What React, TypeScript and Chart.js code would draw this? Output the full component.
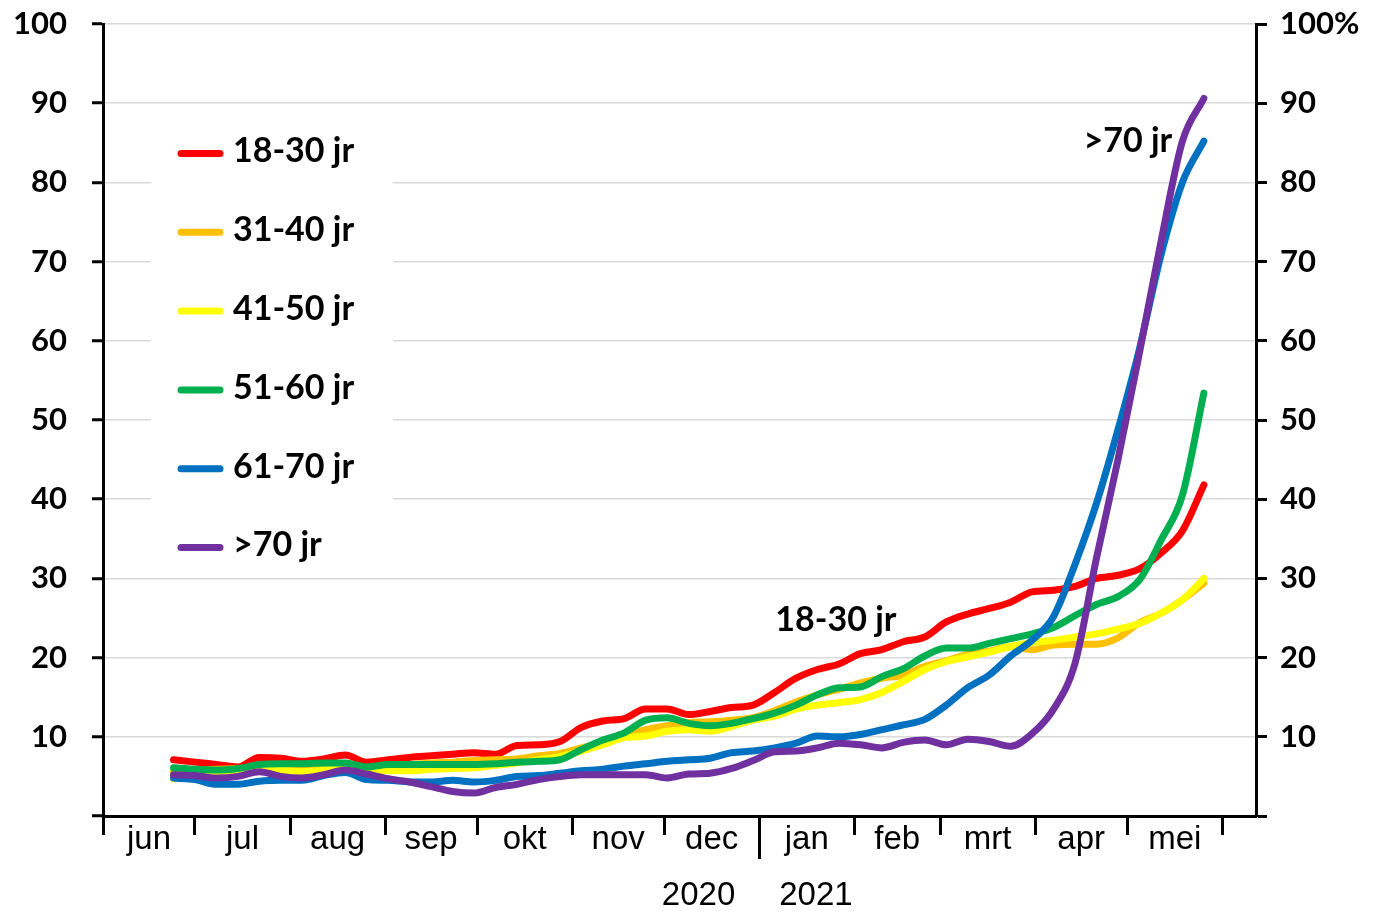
import React, { useEffect, useRef } from "react";
import { Chart, registerables } from "chart.js";

Chart.register(...registerables);

// Day index (0 = 1 June 2020)
const days = [23, 30, 37, 44, 51, 58, 65, 72, 79, 86, 93, 100, 107, 114, 121, 128, 135, 142, 149, 156, 163, 170, 177, 184, 191, 198, 205, 212, 219, 226, 233, 240, 247, 254, 261, 268, 275, 282, 289, 296, 303, 310, 317, 324, 331, 338, 345, 352, 359];

const monthBoundaries = [0, 30, 61, 92, 122, 153, 183, 214, 245, 273, 304, 334, 365];
const monthLabels = ["jun", "jul", "aug", "sep", "okt", "nov", "dec", "jan", "feb", "mrt", "apr", "mei"];
const yearLabels = ["2020", "2021"];
const yTicks = [0, 10, 20, 30, 40, 50, 60, 70, 80, 90, 100];

const seriesLabels = ["18-30 jr", "31-40 jr", "41-50 jr", "51-60 jr", "61-70 jr", ">70 jr"];

const age18to30 = [7.1, 6.8, 6.5, 6.2, 7.4, 7.3, 6.9, 7.2, 7.7, 6.8, 7.1, 7.4, 7.6, 7.8, 8.0, 7.8, 8.9, 9.0, 9.4, 11.2, 12.0, 12.3, 13.5, 13.5, 12.8, 13.2, 13.7, 14.0, 15.6, 17.4, 18.5, 19.2, 20.5, 21.0, 22.0, 22.6, 24.5, 25.5, 26.2, 27.0, 28.3, 28.5, 29.0, 30.0, 30.4, 31.2, 33.2, 36.0, 41.8];
const age31to40 = [5.6, 5.7, 5.9, 6.0, 6.2, 6.3, 6.2, 6.3, 6.5, 6.0, 6.3, 6.5, 6.7, 6.8, 7.0, 7.1, 7.2, 7.6, 7.9, 8.6, 9.3, 10.1, 10.9, 11.4, 11.8, 11.9, 12.1, 12.4, 13.3, 14.4, 15.3, 16.0, 16.8, 17.4, 17.8, 18.9, 19.6, 20.4, 20.8, 21.4, 21.0, 21.6, 21.7, 21.7, 22.5, 24.4, 25.6, 27.3, 29.4];
const age41to50 = [4.7, 5.0, 5.4, 5.7, 5.9, 5.8, 5.6, 5.8, 6.0, 5.9, 5.7, 5.7, 5.9, 6.0, 6.1, 6.4, 6.7, 7.1, 7.5, 8.2, 9.0, 9.9, 10.1, 10.7, 10.9, 10.7, 11.3, 12.1, 12.6, 13.5, 14.0, 14.3, 14.7, 15.6, 17.0, 18.5, 19.5, 20.1, 20.7, 21.4, 21.9, 22.2, 22.6, 23.0, 23.6, 24.3, 25.6, 27.3, 30.0];
const age51to60 = [6.1, 5.9, 5.8, 6.0, 6.5, 6.6, 6.6, 6.7, 6.7, 6.2, 6.5, 6.5, 6.5, 6.5, 6.5, 6.6, 6.8, 6.9, 7.1, 8.4, 9.6, 10.5, 12.1, 12.4, 11.7, 11.4, 11.7, 12.3, 13.0, 14.0, 15.3, 16.2, 16.3, 17.6, 18.6, 20.2, 21.2, 21.2, 21.8, 22.4, 23.0, 23.8, 25.3, 26.7, 27.7, 29.8, 34.8, 40.5, 53.4];
const age61to70 = [4.8, 4.6, 4.0, 4.0, 4.4, 4.5, 4.5, 5.1, 5.5, 4.6, 4.5, 4.3, 4.3, 4.5, 4.3, 4.5, 5.0, 5.1, 5.4, 5.7, 5.9, 6.3, 6.6, 6.9, 7.1, 7.3, 8.0, 8.2, 8.6, 9.2, 10.1, 10.0, 10.3, 10.9, 11.5, 12.2, 14.0, 16.2, 17.8, 20.2, 22.2, 25.2, 31.8, 39.5, 48.8, 59.0, 70.8, 80.0, 85.2];
const age70plus = [5.2, 5.1, 4.8, 5.0, 5.6, 5.0, 4.8, 5.2, 5.8, 5.3, 4.7, 4.3, 3.7, 3.1, 2.9, 3.6, 4.0, 4.6, 5.0, 5.2, 5.2, 5.2, 5.2, 4.8, 5.3, 5.4, 6.0, 7.0, 8.1, 8.2, 8.6, 9.2, 9.0, 8.6, 9.3, 9.6, 9.0, 9.7, 9.4, 8.8, 10.4, 13.5, 19.3, 32.6, 45.0, 58.5, 72.5, 85.2, 90.6];

const seriesColors = ["#FF0000", "#FFC000", "#FFFF00", "#00B050", "#0070C0", "#7030A0"];

const annotationTexts = ["18-30 jr", ">70 jr"];

export default function App() {
  const canvasRef = useRef<HTMLCanvasElement | null>(null);

  useEffect(() => {
    const canvas = canvasRef.current;
    if (!canvas) return;
    const seriesValues = [age18to30, age31to40, age41to50, age51to60, age61to70, age70plus];
    const midMonths = monthLabels.map((_, i) => (monthBoundaries[i] + monthBoundaries[i + 1]) / 2);
    const boundarySet = new Set(monthBoundaries);
    const xTickValues = [...monthBoundaries, ...midMonths].sort((a, b) => a - b);

    const datasets = seriesLabels.map((label, i) => ({
      label,
      data: days.map((d, j) => ({ x: d, y: seriesValues[i][j] })),
      borderColor: seriesColors[i],
      backgroundColor: seriesColors[i],
      borderWidth: 7,
      pointRadius: 0,
      pointHoverRadius: 0,
      cubicInterpolationMode: "monotone" as const,
      fill: false,
      order: seriesLabels.length - i,
      borderCapStyle: "round" as const,
      borderJoinStyle: "round" as const,
    }));

    const overlay = {
      id: "overlay",
      beforeDatasetsDraw(chart: any) {
        const ctx = chart.ctx as CanvasRenderingContext2D;
        ctx.save();
        ctx.fillStyle = "#ffffff";
        ctx.fillRect(151, 110, 242, 460);
        ctx.font = "bold 34px Lato";
        ctx.textAlign = "left";
        ctx.textBaseline = "middle";
        seriesLabels.forEach((label, i) => {
          const y = 153.5 + i * 78.8;
          ctx.strokeStyle = seriesColors[i];
          ctx.lineWidth = 7;
          ctx.lineCap = "round";
          ctx.beginPath();
          ctx.moveTo(181, y);
          ctx.lineTo(220, y);
          ctx.stroke();
          ctx.fillStyle = "#000";
          ctx.fillText(label, 233, y - 2);
        });
        ctx.restore();
      },
      afterDraw(chart: any) {
        const ctx = chart.ctx as CanvasRenderingContext2D;
        const xs = chart.scales.x;
        const ys = chart.scales.y;
        ctx.save();
        // longer year separator tick at jan
        const janPx = xs.getPixelForValue(monthBoundaries[7]);
        ctx.strokeStyle = "#000";
        ctx.lineWidth = 3;
        ctx.beginPath();
        ctx.moveTo(Math.round(janPx) + 0.5, 830);
        ctx.lineTo(Math.round(janPx) + 0.5, 859);
        ctx.stroke();
        // year labels
        ctx.fillStyle = "#000";
        ctx.font = '33px "Liberation Sans"';
        ctx.textBaseline = "alphabetic";
        ctx.textAlign = "right";
        ctx.fillText(yearLabels[0], janPx - 24, 905);
        ctx.textAlign = "left";
        ctx.fillText(yearLabels[1], janPx + 20, 905);
        // annotations
        ctx.font = "bold 34px Lato";
        ctx.textBaseline = "middle";
        ctx.textAlign = "center";
        ctx.fillText(annotationTexts[0], xs.getPixelForValue(239), ys.getPixelForValue(24.7));
        ctx.textAlign = "right";
        ctx.fillText(annotationTexts[1], xs.getPixelForValue(348.7), ys.getPixelForValue(85.2));
        ctx.restore();
      },
    };

    const noPadY = (scale: any, width: number) => {
      scale.width = width;
      scale.paddingTop = 0;
      scale.paddingBottom = 0;
    };

    const chart = new Chart(canvas, {
      type: "line",
      data: { datasets },
      options: {
        animation: false,
        responsive: false,
        maintainAspectRatio: false,
        layout: { padding: { top: 24, left: 0, right: 0, bottom: 0 } },
        plugins: {
          legend: { display: false },
          tooltip: { enabled: false },
        },
        events: [],
        scales: {
          x: {
            type: "linear",
            min: 0,
            max: 376,
            afterBuildTicks: (scale: any) => {
              scale.ticks = xTickValues.map((v) => ({ value: v }));
            },
            afterFit: (scale: any) => {
              scale.height = 95;
              scale.paddingLeft = 0;
              scale.paddingRight = 0;
            },
            ticks: {
              autoSkip: false,
              maxRotation: 0,
              minRotation: 0,
              padding: -15,
              color: "#000",
              font: { family: "Liberation Sans", size: 33 },
              callback: (v: any) => {
                const i = midMonths.indexOf(Number(v));
                return i >= 0 ? monthLabels[i] : "";
              },
            },
            grid: {
              drawOnChartArea: false,
              tickLength: 19,
              tickWidth: 3,
              tickColor: (c: any) => (c.tick && boundarySet.has(c.tick.value) ? "#000" : "rgba(0,0,0,0)"),
            },
            border: { color: "#000", width: 3 },
          },
          y: {
            position: "left",
            min: 0,
            max: 100,
            afterBuildTicks: (scale: any) => {
              scale.ticks = yTicks.map((v) => ({ value: v }));
            },
            afterFit: (scale: any) => noPadY(scale, 103),
            ticks: {
              padding: 25,
              color: "#000",
              font: { family: "Lato", weight: "bold", size: 31 },
              callback: (v: any) => (Number(v) === 0 ? "" : String(v)),
            },
            grid: {
              color: "#d9d9d9",
              lineWidth: 1.5,
              tickColor: "#000",
              tickWidth: 3,
              tickLength: 11,
            },
            border: { color: "#000", width: 3 },
          },
          y2: {
            position: "right",
            min: 0,
            max: 100,
            afterBuildTicks: (scale: any) => {
              scale.ticks = yTicks.map((v) => ({ value: v }));
            },
            afterFit: (scale: any) => noPadY(scale, 136),
            ticks: {
              padding: 13,
              color: "#000",
              font: { family: "Lato", weight: "bold", size: 31 },
              callback: (v: any) => (Number(v) === 0 ? "" : Number(v) === 100 ? "100%" : String(v)),
            },
            grid: {
              drawOnChartArea: false,
              tickColor: "#000",
              tickWidth: 3,
              tickLength: 11,
            },
            border: { color: "#000", width: 3 },
          },
        },
      },
      plugins: [overlay],
    } as any);

    return () => {
      chart.destroy();
    };
  }, []);

  return (
    <div style={{ position: "absolute", left: 0, top: 0, width: 1392, height: 911, background: "#fff" }}>
      <canvas ref={canvasRef} width={1392} height={911} style={{ display: "block" }} />
    </div>
  );
}
